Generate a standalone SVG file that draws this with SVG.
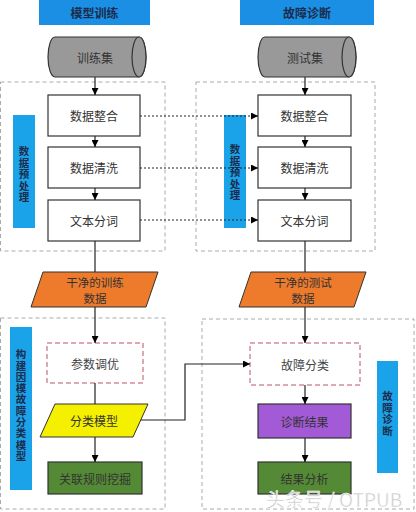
<svg xmlns="http://www.w3.org/2000/svg" width="416" height="512" viewBox="0 0 416 512">
<defs>
<marker id="ah" viewBox="0 0 10 10" refX="10" refY="5" markerWidth="7" markerHeight="7" orient="auto" markerUnits="userSpaceOnUse">
<path d="M0,0 L10,5 L0,10 z" fill="#000"/>
</marker>
<style>
text{font-family:"Noto Sans CJK SC","Noto Sans",sans-serif;}
.t{font-size:12px;fill:#333;text-anchor:middle;dominant-baseline:central;}
.title{font-size:12px;font-weight:bold;fill:#1c2c4c;text-anchor:middle;dominant-baseline:central;}
.vt{font-size:10.5px;font-weight:bold;fill:#1c2c4c;writing-mode:vertical-rl;text-anchor:start;}
.tb{fill:#1a8fe3;}
.bar{fill:#1aa3e8;}
.box{fill:#fff;stroke:#333;stroke-width:1.2;}
.dbox{fill:none;stroke:#aaa;stroke-width:1;stroke-dasharray:4,3;}
.rd{fill:#fff;stroke:#c05060;stroke-width:1;stroke-dasharray:5,3;}
.ln{fill:none;stroke:#222;stroke-width:1.2;}
.dot{fill:none;stroke:#222;stroke-width:1;stroke-dasharray:2,2;}
</style>
</defs>
<rect width="416" height="512" fill="#fff"/>
<g id="groups">
<rect class="dbox" x="0.5" y="82" width="164.5" height="169"/>
<rect class="dbox" x="196" y="82" width="179" height="169"/>
<rect class="dbox" x="0.5" y="318" width="164.5" height="191"/>
<rect class="dbox" x="202" y="319" width="212" height="190"/>
</g>
<g id="title-left"><rect class="tb" x="39" y="0" width="111" height="25"/><text class="title" x="94.5" y="12">模型训练</text></g>
<g id="title-right"><rect class="tb" x="240" y="0" width="134" height="25"/><text class="title" x="307" y="12">故障诊断</text></g>
<g id="bar-pre-left"><rect class="bar" x="13" y="115" width="22" height="113"/>
<text class="vt" x="24" y="146" style="letter-spacing:1px">数据预处理</text></g>
<g id="bar-pre-right"><rect class="bar" x="224" y="115" width="22" height="113"/>
<text class="vt" x="235" y="144" style="letter-spacing:1px">数据预处理</text></g>
<g id="bar-model"><rect class="bar" x="10" y="327" width="22" height="163"/>
<text class="vt" x="21" y="349" style="letter-spacing:0.8px">构建因模故障分类模型</text></g>
<g id="bar-diag"><rect class="bar" x="377" y="361" width="21" height="112"/>
<text class="vt" x="387.5" y="391" style="letter-spacing:1px">故障诊断</text></g>
<g id="train-set">
<path d="M55,37 H139 A7,20 0 0 1 139,77 H55 A7,20 0 0 1 55,37 z" fill="#999" stroke="#333" stroke-width="1.2"/>
<ellipse cx="139" cy="57" rx="7" ry="20" fill="#999" stroke="#333" stroke-width="1.2"/>
<text class="t" x="95" y="57">训练集</text></g>
<g id="test-set">
<path d="M265,37 H349 A7,20 0 0 1 349,77 H265 A7,20 0 0 1 265,37 z" fill="#999" stroke="#333" stroke-width="1.2"/>
<ellipse cx="349" cy="57" rx="7" ry="20" fill="#999" stroke="#333" stroke-width="1.2"/>
<text class="t" x="305" y="57">测试集</text></g>
<g id="l-integrate"><rect class="box" x="48" y="95" width="92" height="41"/><text class="t" x="94" y="115.5">数据整合</text></g>
<g id="l-clean"><rect class="box" x="48" y="147" width="92" height="41"/><text class="t" x="94" y="167.5">数据清洗</text></g>
<g id="l-seg"><rect class="box" x="48" y="200" width="92" height="41"/><text class="t" x="94" y="220.5">文本分词</text></g>
<g id="r-integrate"><rect class="box" x="258" y="95" width="93" height="41"/><text class="t" x="304.5" y="115.5">数据整合</text></g>
<g id="r-clean"><rect class="box" x="258" y="147" width="93" height="41"/><text class="t" x="304.5" y="167.5">数据清洗</text></g>
<g id="r-seg"><rect class="box" x="258" y="200" width="93" height="41"/><text class="t" x="304.5" y="220.5">文本分词</text></g>
<g id="clean-train"><polygon points="43,272 158,272 146,307 31,307" fill="#ee7a2c" stroke="#333" stroke-width="1"/>
<text class="t" x="95" y="282" style="font-size:11.5px">干净的训练</text><text class="t" x="95" y="298" style="font-size:11.5px">数据</text></g>
<g id="clean-test"><polygon points="251,272 366,272 354,307 239,307" fill="#ee7a2c" stroke="#333" stroke-width="1"/>
<text class="t" x="303" y="282" style="font-size:11.5px">干净的测试</text><text class="t" x="303" y="298" style="font-size:11.5px">数据</text></g>
<g id="tune"><rect class="rd" x="47" y="343" width="96" height="40"/><text class="t" x="95" y="363" style="fill:#444">参数调优</text></g>
<g id="classify"><rect class="rd" x="250" y="343" width="110" height="42"/><text class="t" x="305" y="364" style="fill:#444">故障分类</text></g>
<g id="model"><polygon points="55,404 148,404 133,437 40,437" fill="#f5f000" stroke="#333" stroke-width="1"/><text class="t" x="94" y="420.5">分类模型</text></g>
<g id="assoc"><rect x="48" y="462" width="94" height="32" fill="#548a35" stroke="#333" stroke-width="1.2"/><text class="t" x="95" y="478">关联规则挖掘</text></g>
<g id="diag-result"><rect x="258" y="404" width="93" height="34" fill="#a35ad6" stroke="#333" stroke-width="1.2"/><text class="t" x="304.5" y="421">诊断结果</text></g>
<g id="analysis"><rect x="258" y="462" width="93" height="32" fill="#548a35" stroke="#333" stroke-width="1.2"/><text class="t" x="304.5" y="478">结果分析</text></g>
<g id="connectors">
<line class="ln" x1="95" y1="77" x2="95" y2="95" marker-end="url(#ah)"/>
<line class="ln" x1="95" y1="136" x2="95" y2="147" marker-end="url(#ah)"/>
<line class="ln" x1="95" y1="188" x2="95" y2="200" marker-end="url(#ah)"/>
<line class="ln" x1="95" y1="241" x2="95" y2="272"/>
<line class="ln" x1="95" y1="307" x2="95" y2="343" marker-end="url(#ah)"/>
<line class="ln" x1="95" y1="383" x2="95" y2="404"/>
<line class="ln" x1="95" y1="437" x2="95" y2="462" marker-end="url(#ah)"/>
<line class="ln" x1="305" y1="77" x2="305" y2="95" marker-end="url(#ah)"/>
<line class="ln" x1="305" y1="136" x2="305" y2="147" marker-end="url(#ah)"/>
<line class="ln" x1="305" y1="188" x2="305" y2="200" marker-end="url(#ah)"/>
<line class="ln" x1="305" y1="241" x2="305" y2="272"/>
<line class="ln" x1="305" y1="307" x2="305" y2="343" marker-end="url(#ah)"/>
<line class="ln" x1="305" y1="385" x2="305" y2="404" marker-end="url(#ah)"/>
<line class="ln" x1="305" y1="438" x2="305" y2="462" marker-end="url(#ah)"/>
<line class="dot" x1="140" y1="116" x2="258" y2="116" marker-end="url(#ah)"/>
<line class="dot" x1="140" y1="168" x2="258" y2="168" marker-end="url(#ah)"/>
<line class="dot" x1="140" y1="220" x2="258" y2="220" marker-end="url(#ah)"/>
<polyline class="ln" points="141,420 185,420 185,364 250,364" marker-end="url(#ah)"/>
</g>
<text x="266" y="507" style="font-size:19px;fill:#c8c8c8;stroke:#fff;stroke-width:0.5" font-family="Noto Sans CJK SC, sans-serif">头条号 / OTPUB</text>
</svg>
